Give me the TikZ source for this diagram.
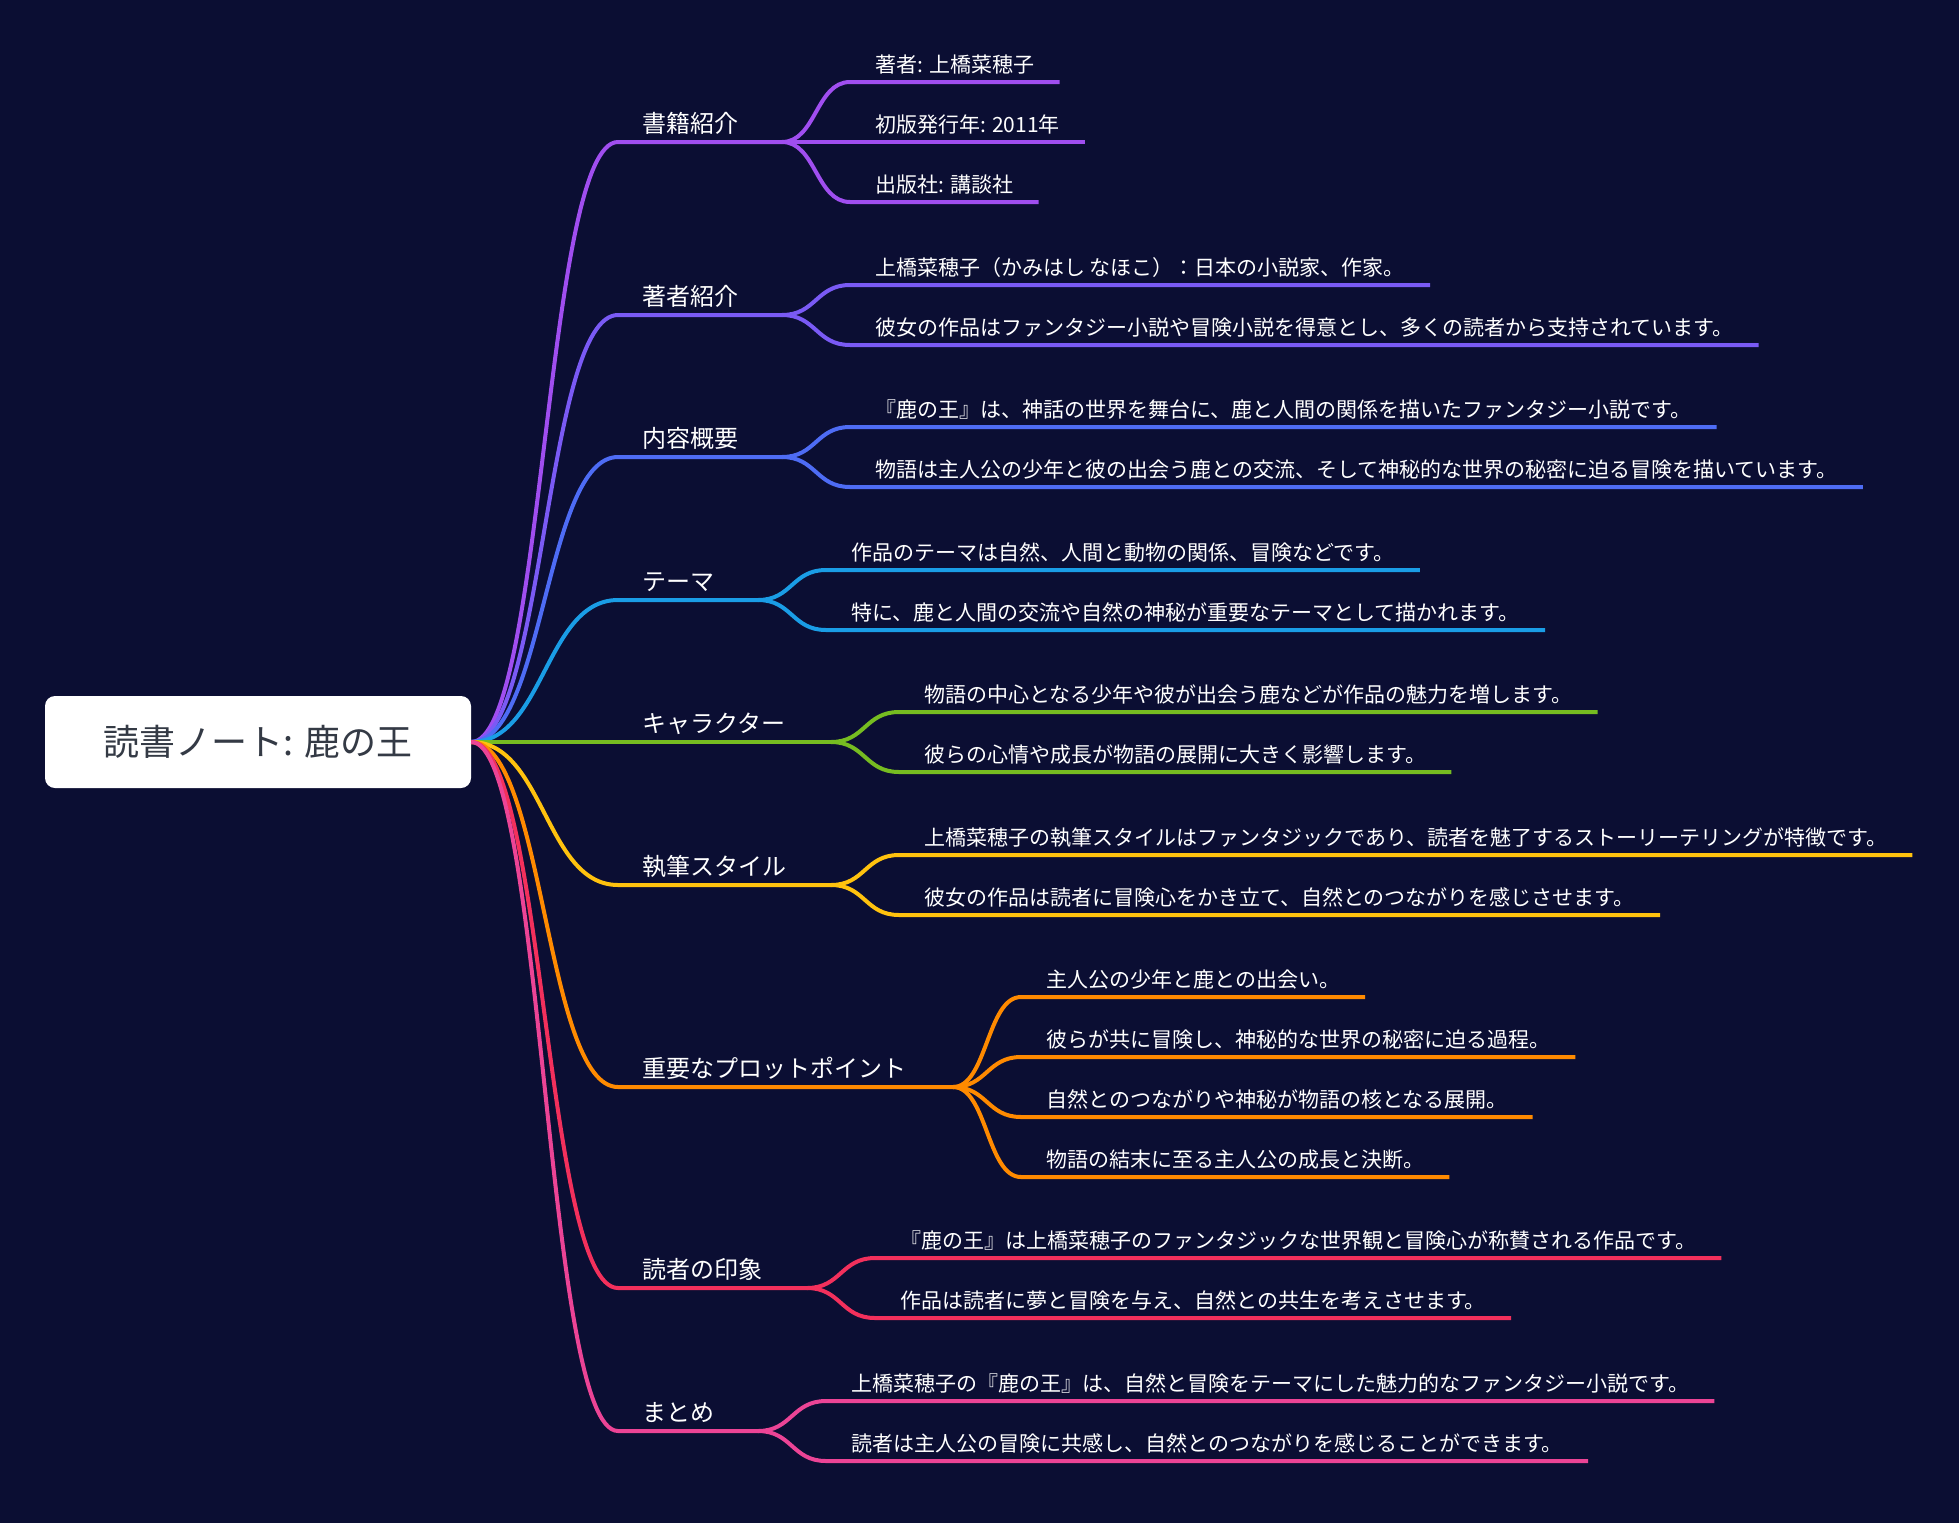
\documentclass[tikz,border=0pt]{standalone}
\usepackage{fontspec}
\setmainfont{Noto Sans CJK JP}
\definecolor{bg}{HTML}{0B0E33}
\definecolor{rootgray}{HTML}{343A45}
\definecolor{cA}{HTML}{A04EF0}
\definecolor{cB}{HTML}{7A5AF5}
\definecolor{cC}{HTML}{4E6CF5}
\definecolor{cD}{HTML}{1A9DE6}
\definecolor{cE}{HTML}{76BC21}
\definecolor{cF}{HTML}{FFC20E}
\definecolor{cG}{HTML}{FF8A00}
\definecolor{cH}{HTML}{F3305C}
\definecolor{cI}{HTML}{EC4496}
\tikzset{
  topic/.style={text=white, inner sep=0pt, anchor=base west, font=\fontsize{24}{28}\selectfont},
  leaf/.style={text=white, inner sep=0pt, anchor=base west, font=\fontsize{21}{24}\selectfont},
  br/.style={line width=4pt},
}
\begin{document}
\begin{tikzpicture}[x=1pt,y=-1pt]
\fill[bg] (0,0) rectangle (1959,1523);
\useasboundingbox (0,0) rectangle (1959,1523);

\node[fill=white, rounded corners=10pt, minimum width=426pt, minimum height=92pt, text=rootgray, font=\fontsize{36}{40}\selectfont] (root) at (258,742) {読書ノート: 鹿の王};

\coordinate (s1) at (618,142);
\coordinate (f1) at (782,142);
\coordinate (s2) at (618,315);
\coordinate (f2) at (782,315);
\coordinate (s3) at (618,457);
\coordinate (f3) at (782,457);
\coordinate (s4) at (618,600);
\coordinate (f4) at (758,600);
\coordinate (s5) at (618,742);
\coordinate (f5) at (831,742);
\coordinate (s6) at (618,885);
\coordinate (f6) at (831,885);
\coordinate (s7) at (618,1087);
\coordinate (f7) at (953,1087);
\coordinate (s8) at (618,1288);
\coordinate (f8) at (807,1288);
\coordinate (s9) at (618,1431);
\coordinate (f9) at (758,1431);

\node[topic] (l1) at (642,132) {書籍紹介};
\node[topic] (l2) at (642,305) {著者紹介};
\node[topic] (l3) at (642,447) {内容概要};
\node[topic] (l4) at (642,590) {テーマ};
\node[topic] (l5) at (642,732) {キャラクター};
\node[topic] (l6) at (642,875) {執筆スタイル};
\node[topic] (l7) at (642,1077) {重要なプロットポイント};
\node[topic] (l8) at (642,1278) {読者の印象};
\node[topic] (l9) at (642,1421) {まとめ};

\draw[br,cA] (root.east) .. controls +(73,0) and +(-73,0) .. (s1) -- (f1);
\draw[br,cB] (root.east) .. controls +(73,0) and +(-73,0) .. (s2) -- (f2);
\draw[br,cC] (root.east) .. controls +(73,0) and +(-73,0) .. (s3) -- (f3);
\draw[br,cD] (root.east) .. controls +(73,0) and +(-73,0) .. (s4) -- (f4);
\draw[br,cE] (root.east) .. controls +(73,0) and +(-73,0) .. (s5) -- (f5);
\draw[br,cF] (root.east) .. controls +(73,0) and +(-73,0) .. (s6) -- (f6);
\draw[br,cG] (root.east) .. controls +(73,0) and +(-73,0) .. (s7) -- (f7);
\draw[br,cH] (root.east) .. controls +(73,0) and +(-73,0) .. (s8) -- (f8);
\draw[br,cI] (root.east) .. controls +(73,0) and +(-73,0) .. (s9) -- (f9);

\coordinate (e11) at (850,82);
\coordinate (e12) at (850,142);
\coordinate (e13) at (850,202);
\node[leaf] (t11) at (875,72) {著者: 上橋菜穂子};
\node[leaf] (t12) at (875,132) {初版発行年: 2011年};
\node[leaf] (t13) at (875,192) {出版社: 講談社};
\draw[br,cA] (f1) .. controls +(34,0) and +(-34,0) .. (e11) -- (e11 -| t11.east) -- ++(25,0);
\draw[br,cA] (f1) -- (e12) -- (e12 -| t12.east) -- ++(25,0);
\draw[br,cA] (f1) .. controls +(34,0) and +(-34,0) .. (e13) -- (e13 -| t13.east) -- ++(25,0);

\coordinate (e21) at (850,285);
\coordinate (e22) at (850,345);
\node[leaf] (t21) at (875,275) {上橋菜穂子（かみはし なほこ）：日本の小説家、作家。};
\node[leaf] (t22) at (875,335) {彼女の作品はファンタジー小説や冒険小説を得意とし、多くの読者から支持されています。};
\draw[br,cB] (f2) .. controls +(34,0) and +(-34,0) .. (e21) -- (e21 -| t21.east) -- ++(25,0);
\draw[br,cB] (f2) .. controls +(34,0) and +(-34,0) .. (e22) -- (e22 -| t22.east) -- ++(25,0);

\coordinate (e31) at (850,427);
\coordinate (e32) at (850,487);
\node[leaf] (t31) at (875,417) {『鹿の王』は、神話の世界を舞台に、鹿と人間の関係を描いたファンタジー小説です。};
\node[leaf] (t32) at (875,477) {物語は主人公の少年と彼の出会う鹿との交流、そして神秘的な世界の秘密に迫る冒険を描いています。};
\draw[br,cC] (f3) .. controls +(34,0) and +(-34,0) .. (e31) -- (e31 -| t31.east) -- ++(25,0);
\draw[br,cC] (f3) .. controls +(34,0) and +(-34,0) .. (e32) -- (e32 -| t32.east) -- ++(25,0);

\coordinate (e41) at (826,570);
\coordinate (e42) at (826,630);
\node[leaf] (t41) at (851,560) {作品のテーマは自然、人間と動物の関係、冒険などです。};
\node[leaf] (t42) at (851,620) {特に、鹿と人間の交流や自然の神秘が重要なテーマとして描かれます。};
\draw[br,cD] (f4) .. controls +(34,0) and +(-34,0) .. (e41) -- (e41 -| t41.east) -- ++(25,0);
\draw[br,cD] (f4) .. controls +(34,0) and +(-34,0) .. (e42) -- (e42 -| t42.east) -- ++(25,0);

\coordinate (e51) at (899,712);
\coordinate (e52) at (899,772);
\node[leaf] (t51) at (924,702) {物語の中心となる少年や彼が出会う鹿などが作品の魅力を増します。};
\node[leaf] (t52) at (924,762) {彼らの心情や成長が物語の展開に大きく影響します。};
\draw[br,cE] (f5) .. controls +(34,0) and +(-34,0) .. (e51) -- (e51 -| t51.east) -- ++(25,0);
\draw[br,cE] (f5) .. controls +(34,0) and +(-34,0) .. (e52) -- (e52 -| t52.east) -- ++(25,0);

\coordinate (e61) at (899,855);
\coordinate (e62) at (899,915);
\node[leaf] (t61) at (924,845) {上橋菜穂子の執筆スタイルはファンタジックであり、読者を魅了するストーリーテリングが特徴です。};
\node[leaf] (t62) at (924,905) {彼女の作品は読者に冒険心をかき立て、自然とのつながりを感じさせます。};
\draw[br,cF] (f6) .. controls +(34,0) and +(-34,0) .. (e61) -- (e61 -| t61.east) -- ++(25,0);
\draw[br,cF] (f6) .. controls +(34,0) and +(-34,0) .. (e62) -- (e62 -| t62.east) -- ++(25,0);

\coordinate (e71) at (1021,997);
\coordinate (e72) at (1021,1057);
\coordinate (e73) at (1021,1117);
\coordinate (e74) at (1021,1177);
\node[leaf] (t71) at (1046,987) {主人公の少年と鹿との出会い。};
\node[leaf] (t72) at (1046,1047) {彼らが共に冒険し、神秘的な世界の秘密に迫る過程。};
\node[leaf] (t73) at (1046,1107) {自然とのつながりや神秘が物語の核となる展開。};
\node[leaf] (t74) at (1046,1167) {物語の結末に至る主人公の成長と決断。};
\draw[br,cG] (f7) .. controls +(34,0) and +(-34,0) .. (e71) -- (e71 -| t71.east) -- ++(25,0);
\draw[br,cG] (f7) .. controls +(34,0) and +(-34,0) .. (e72) -- (e72 -| t72.east) -- ++(25,0);
\draw[br,cG] (f7) .. controls +(34,0) and +(-34,0) .. (e73) -- (e73 -| t73.east) -- ++(25,0);
\draw[br,cG] (f7) .. controls +(34,0) and +(-34,0) .. (e74) -- (e74 -| t74.east) -- ++(25,0);

\coordinate (e81) at (875,1258);
\coordinate (e82) at (875,1318);
\node[leaf] (t81) at (900,1248) {『鹿の王』は上橋菜穂子のファンタジックな世界観と冒険心が称賛される作品です。};
\node[leaf] (t82) at (900,1308) {作品は読者に夢と冒険を与え、自然との共生を考えさせます。};
\draw[br,cH] (f8) .. controls +(34,0) and +(-34,0) .. (e81) -- (e81 -| t81.east) -- ++(25,0);
\draw[br,cH] (f8) .. controls +(34,0) and +(-34,0) .. (e82) -- (e82 -| t82.east) -- ++(25,0);

\coordinate (e91) at (826,1401);
\coordinate (e92) at (826,1461);
\node[leaf] (t91) at (851,1391) {上橋菜穂子の『鹿の王』は、自然と冒険をテーマにした魅力的なファンタジー小説です。};
\node[leaf] (t92) at (851,1451) {読者は主人公の冒険に共感し、自然とのつながりを感じることができます。};
\draw[br,cI] (f9) .. controls +(34,0) and +(-34,0) .. (e91) -- (e91 -| t91.east) -- ++(25,0);
\draw[br,cI] (f9) .. controls +(34,0) and +(-34,0) .. (e92) -- (e92 -| t92.east) -- ++(25,0);

\end{tikzpicture}
\end{document}
